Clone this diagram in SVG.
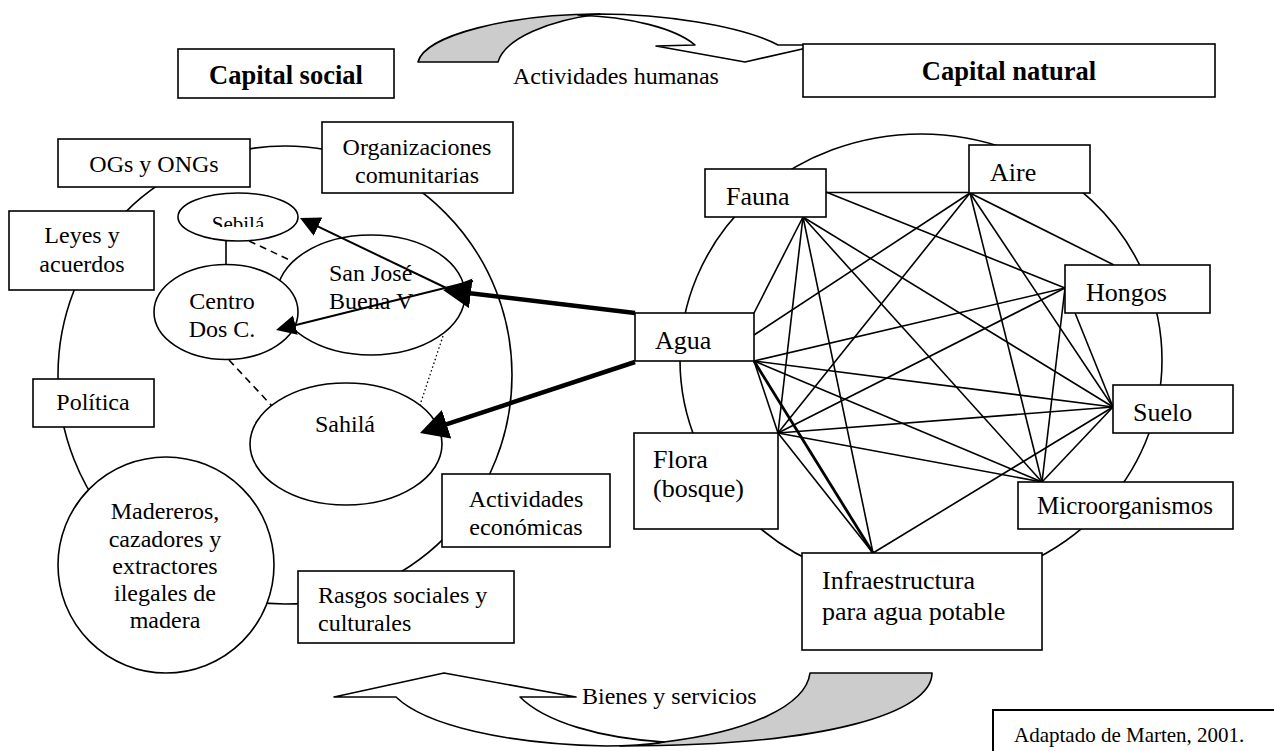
<svg xmlns="http://www.w3.org/2000/svg" width="1274" height="751" viewBox="0 0 1274 751">
<defs>
<style>
.box{fill:#fff;stroke:#000;stroke-width:1.6}
.ell{fill:#fff;stroke:#000;stroke-width:1.6}
.ring{fill:none;stroke:#000;stroke-width:1.6}
.t{font-family:"Liberation Serif","Times New Roman",serif;font-size:24px;fill:#000}
.tr{font-family:"Liberation Serif","Times New Roman",serif;font-size:26px;fill:#000}
.tb{font-family:"Liberation Serif","Times New Roman",serif;font-size:26.5px;font-weight:bold;fill:#000}
.c{text-anchor:middle}
.ln{stroke:#000;stroke-width:1.6;fill:none}
.thick{stroke:#000;stroke-width:4.5;fill:none}
.thin{stroke:#000;stroke-width:2;fill:none}
.dash{stroke:#000;stroke-width:1.6;stroke-dasharray:7,5;fill:none}
.dot{stroke:#000;stroke-width:1.3;stroke-dasharray:1.5,2.5;fill:none}
.shade{fill:#cccccc;stroke:#000;stroke-width:1.6;stroke-linejoin:round}
.white{fill:#fff;stroke:#000;stroke-width:1.6;stroke-linejoin:round}
</style>
<marker id="ahThick" markerUnits="userSpaceOnUse" markerWidth="30" markerHeight="30" refX="22" refY="15" orient="auto"><path d="M0,0 L28,15 L0,30 Z" fill="#000"/></marker>
<marker id="ahThin" markerUnits="userSpaceOnUse" markerWidth="22" markerHeight="22" refX="16" refY="10" orient="auto"><path d="M0,0 L20,10 L0,20 Z" fill="#000"/></marker>
<clipPath id="sebClip"><rect x="170" y="190" width="140" height="37"/></clipPath>
</defs>
<rect width="1274" height="751" fill="#fff"/>

<!-- big rings -->
<g id="rings">
<ellipse class="ring" cx="285" cy="375" rx="227" ry="229"/>
<ellipse class="ring" cx="921" cy="360" rx="241" ry="226"/>
</g>

<!-- top curved arrow -->
<g id="arrow-top">
<path class="shade" d="M418,62 C425,35 510,14 600,14 C550,20 505,38 498,62 Z"/>
<path class="white" d="M600,14 C660,14 740,25 778,45 L820,45 L745,62 L656,46 L695,45 C675,28 630,17 578,15 Z"/>
<text class="t" x="513" y="84">Actividades humanas</text>
</g>

<!-- bottom curved arrow -->
<g id="arrow-bottom">
<path class="shade" d="M664,742 C750,732 806,705 810,673 L932,673 C932,712 830,746 620,746 C640,745 655,744 664,742 Z"/>
<path class="white" d="M334,697 L444,673 L576,697 L520,697 C545,722 600,738 664,742 C645,745 625,746 606,746 C505,744 425,725 396,697 Z"/>
<text class="t" x="582" y="704">Bienes y servicios</text>
</g>

<g id="capital-social"><rect class="box" x="178" y="49" width="216" height="49"/><text class="tb c" x="286" y="84">Capital social</text></g>
<g id="capital-natural"><rect class="box" x="803" y="44" width="412" height="53"/><text class="tb c" x="1009" y="80">Capital natural</text></g>

<!-- connectors -->
<g id="connectors">
<!-- network -->
<line class="ln" x1="826" y1="192.5" x2="970" y2="192.5"/>
<line class="ln" x1="826" y1="192" x2="1065" y2="288"/>
<line class="ln" x1="803" y1="217" x2="754" y2="313"/>
<line class="ln" x1="803" y1="217" x2="1113" y2="407"/>
<line class="ln" x1="803" y1="217" x2="778" y2="433"/>
<line class="ln" x1="803" y1="217" x2="1042" y2="482"/>
<line class="ln" x1="803" y1="217" x2="873" y2="553"/>
<line class="ln" x1="970" y1="193" x2="1114" y2="265"/>
<line class="ln" x1="970" y1="193" x2="754" y2="335"/>
<line class="ln" x1="970" y1="193" x2="1113" y2="407"/>
<line class="ln" x1="970" y1="193" x2="778" y2="433"/>
<line class="ln" x1="970" y1="193" x2="1042" y2="482"/>
<line class="ln" x1="1065" y1="288" x2="754" y2="361"/>
<line class="ln" x1="1065" y1="288" x2="1113" y2="407"/>
<line class="ln" x1="1065" y1="288" x2="778" y2="433"/>
<line class="ln" x1="1065" y1="288" x2="1042" y2="482"/>
<line class="ln" x1="754" y1="361" x2="1113" y2="407"/>
<line class="ln" x1="754" y1="361" x2="778" y2="433"/>
<line class="ln" x1="754" y1="361" x2="1042" y2="482"/>
<line class="ln" x1="754" y1="361" x2="873" y2="553" style="stroke-width:2.8"/>
<line class="ln" x1="1113" y1="407" x2="778" y2="433"/>
<line class="ln" x1="1113" y1="407" x2="1042" y2="482"/>
<line class="ln" x1="1113" y1="407" x2="873" y2="553"/>
<line class="ln" x1="778" y1="433" x2="1042" y2="482"/>
<line class="ln" x1="778" y1="433" x2="873" y2="553"/>
<!-- community links -->
<line class="ln" x1="226" y1="241" x2="226" y2="265"/>
<line class="dash" x1="249" y1="241" x2="294" y2="262"/>
<line class="dash" x1="229" y1="360" x2="272" y2="406"/>
<line class="dot" x1="443" y1="336" x2="420" y2="405"/>
</g>

<!-- left side nodes -->
<g id="ogs"><rect class="box" x="58" y="139" width="192" height="48"/><text class="t c" x="154" y="172">OGs y ONGs</text></g>
<g id="organizaciones"><rect class="box" x="322" y="122" width="191" height="71"/><text class="t c" x="417" y="155">Organizaciones</text><text class="t c" x="417" y="183">comunitarias</text></g>
<g id="leyes"><rect class="box" x="9" y="211" width="145" height="79"/><text class="t c" x="82" y="243">Leyes y</text><text class="t c" x="82" y="272">acuerdos</text></g>
<g id="politica"><rect class="box" x="33" y="379" width="121" height="48"/><text class="t c" x="93" y="410">Política</text></g>
<g id="actividades-economicas"><rect class="box" x="442" y="474" width="168" height="73"/><text class="t c" x="526" y="507">Actividades</text><text class="t c" x="526" y="535">económicas</text></g>
<g id="rasgos"><rect class="box" x="298" y="571" width="216" height="72"/><text class="t" x="318" y="603">Rasgos sociales y</text><text class="t" x="318" y="631">culturales</text></g>
<g id="madereros"><ellipse class="ell" cx="166" cy="565" rx="108" ry="108"/>
<text class="t c" x="165" y="519">Madereros,</text><text class="t c" x="165" y="547">cazadores y</text><text class="t c" x="165" y="574">extractores</text><text class="t c" x="165" y="601">ilegales de</text><text class="t c" x="165" y="628">madera</text></g>

<g id="sebila"><ellipse class="ell" cx="238" cy="217" rx="60" ry="24"/><text class="t c" x="238" y="231" clip-path="url(#sebClip)" style="font-size:21px">Sebilá</text></g>
<g id="san-jose"><ellipse class="ell" cx="371" cy="295" rx="94" ry="60"/><text class="t" x="329" y="281">San José</text><text class="t" x="329" y="309">Buena V</text></g>
<g id="centro"><ellipse class="ell" cx="226" cy="312" rx="72" ry="47.5"/><text class="t c" x="222" y="309">Centro</text><text class="t c" x="222" y="337">Dos C.</text></g>
<g id="sahila"><ellipse class="ell" cx="346" cy="444" rx="96" ry="61"/><text class="t c" x="345" y="432">Sahilá</text></g>

<!-- right side nodes -->
<g id="fauna"><rect class="box" x="705" y="169" width="121" height="48"/><text class="tr" x="726" y="205">Fauna</text></g>
<g id="aire"><rect class="box" x="969" y="145" width="121" height="48"/><text class="tr" x="990" y="181">Aire</text></g>
<g id="hongos"><rect class="box" x="1065" y="265" width="145" height="48"/><text class="tr" x="1086" y="301">Hongos</text></g>
<g id="agua"><rect class="box" x="635" y="313" width="119" height="48"/><text class="tr" x="655" y="349">Agua</text></g>
<g id="suelo"><rect class="box" x="1113" y="385" width="120" height="48"/><text class="tr" x="1133" y="421">Suelo</text></g>
<g id="flora"><rect class="box" x="634" y="433" width="144" height="96"/><text class="tr" x="653" y="468">Flora</text><text class="tr" x="653" y="497">(bosque)</text></g>
<g id="microorganismos"><rect class="box" x="1018" y="482" width="215" height="47"/><text class="tr" x="1037" y="514" style="font-size:25px">Microorganismos</text></g>
<g id="infraestructura"><rect class="box" x="802" y="553" width="240" height="97"/><text class="tr" x="822" y="589">Infraestructura</text><text class="tr" x="822" y="620">para agua potable</text></g>

<g id="adaptado"><rect x="993" y="710" width="300" height="60" fill="#fff" stroke="#000" stroke-width="2"/><text class="t" x="1014" y="742" style="font-size:21px">Adaptado de Marten, 2001.</text></g>

<!-- arrows over the community cluster -->
<g id="arrows">
<line class="thin" x1="463" y1="296" x2="303.6" y2="219.7" marker-end="url(#ahThin)"/>
<line class="thin" x1="473" y1="281" x2="279.9" y2="329" marker-end="url(#ahThin)"/>
<line class="thick" x1="635" y1="313" x2="449" y2="290.7" marker-end="url(#ahThick)"/>
<line class="thick" x1="635" y1="362" x2="425.7" y2="431.1" marker-end="url(#ahThick)"/>
</g>
</svg>
